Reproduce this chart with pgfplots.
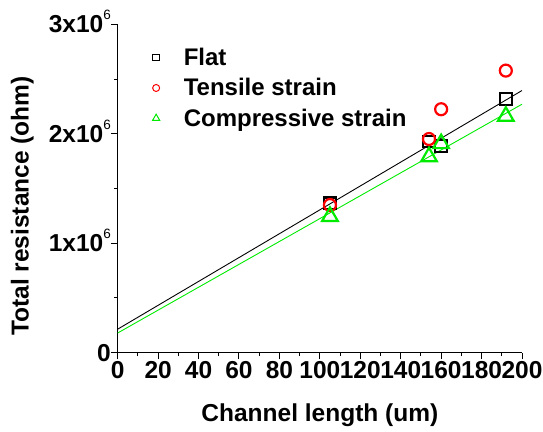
\documentclass[border=0pt]{standalone}
\usepackage{fontspec}
\setmainfont{Liberation Sans}
\usepackage{pgfplots}
\pgfplotsset{compat=1.18}
\definecolor{myred}{RGB}{255,0,0}
\definecolor{mygreen}{RGB}{0,235,0}
\newcommand\six{\raisebox{12.8pt}[0pt][0pt]{\fontsize{13.5}{13.5}\selectfont\mdseries 6}}
\begin{document}
\begin{tikzpicture}
\path[use as bounding box] (0,0) rectangle (543pt,431pt);
\begin{axis}[
  at={(117.7pt,78.3pt)}, anchor=south west,
  scale only axis, width=404.3pt, height=328.4pt,
  xmin=0, xmax=200, ymin=0, ymax=3e6,
  axis x line*=bottom, axis y line*=left,
  axis line style={line width=1pt},
  every tick/.style={black, line width=1pt},
  tick align=outside,
  major tick length=6.7pt, minor tick length=3.5pt,
  xtick={0,20,...,200}, minor x tick num=1,
  xticklabels={0,20,40,60,80,100,120,140,160,180,200},
  ytick={0,1e6,2e6,3e6}, minor y tick num=1,
  yticklabels={0,1x10\six,2x10\six,3x10\six},
  scaled y ticks=false,
  tick label style={font=\fontsize{24.5}{29}\selectfont\bfseries},
  xticklabel style={anchor=north, inner sep=0pt, yshift=-2pt},
  yticklabel style={anchor=east, inner sep=0pt},
  xlabel={Channel length (um)},
  ylabel={Total resistance (ohm)},
  xlabel style={at={(axis description cs:0.5,-0.210)}, anchor=base, inner sep=0pt, font=\fontsize{24.5}{29}\selectfont\bfseries},
  ylabel style={at={(axis description cs:-0.207,0.4467)}, anchor=south, rotate=0, inner sep=0pt, font=\fontsize{24.5}{29}\selectfont\bfseries},
  legend style={at={(axis description cs:0.0856,0.928)}, anchor=north west, draw=none, fill=none, inner sep=0pt, row sep=11.5pt,
    font=\fontsize{24}{29}\selectfont\bfseries, nodes={inner sep=0pt},
    /tikz/every odd column/.style={column sep=24pt}},
  legend cell align=left,
  legend image code/.code={\draw[#1] plot coordinates {(0pt,0pt)};},
  clip=false,
]
\addplot[only marks, mark=square, color=black, mark size=5.8pt, line width=2.2pt,
  legend image post style={mark size=3.3pt, line width=1pt}]
  coordinates {(105,1.365e6) (154,1.93e6) (160,1.888e6) (192,2.318e6)};
\addlegendentry{Flat\vphantom{Cp}}
\addplot[only marks, mark=o, color=myred, mark size=6pt, line width=2.2pt,
  legend image post style={mark size=3.5pt, line width=1pt}]
  coordinates {(105,1.349e6) (154,1.952e6) (160,2.224e6) (192,2.577e6)};
\addlegendentry{Tensile strain\vphantom{Cp}}
\addplot[only marks, mark=triangle, color=mygreen, mark size=9pt, line width=2.2pt,
  legend image post style={mark size=4.2pt, line width=1pt}]
  coordinates {(105,1.245e6) (154,1.79e6) (160,1.91e6) (192,2.16e6)};
\addlegendentry{Compressive strain}
\addplot[black, line width=0.9pt, forget plot] coordinates {(0,0.215e6) (200,2.395e6)};
\addplot[mygreen, line width=0.9pt, forget plot] coordinates {(0,0.18e6) (200,2.27e6)};
\end{axis}
\end{tikzpicture}
\end{document}
